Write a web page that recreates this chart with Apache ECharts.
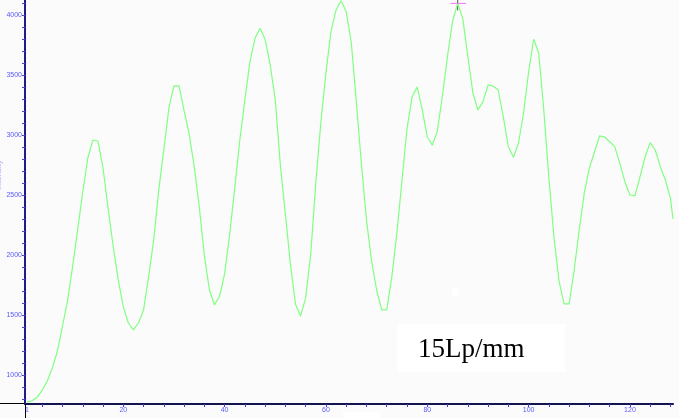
<!DOCTYPE html>
<html><head><meta charset="utf-8">
<script src="https://cdn.jsdelivr.net/npm/echarts@6.0.0/dist/echarts.min.js"></script>
<style>html,body{margin:0;padding:0;background:#fbfbfb;}#c{width:679px;height:418px;}</style>
</head><body><div id="c"></div>
<script>
const positions = [1,2,3,4,5,6,7,8,9,10,11,12,13,14,15,16,17,18,19,20,21,22,23,24,25,26,27,28,29,30,
  31,32,33,34,35,36,37,38,39,40,41,42,43,44,45,46,47,48,49,50,51,52,53,54,55,56,57,58,59,60,
  61,62,63,64,65,66,67,68,69,70,71,72,73,74,75,76,77,78,79,80,81,82,83,84,85,86,87,88,89,90,
  91,92,93,94,95,96,97,98,99,100,101,102,103,104,105,106,107,108,109,110,111,112,113,114,115,116,117,118,119,120,
  121,122,123,124,125,126,127,128,128.5];
const intensity = [773,785,815,872,950,1058,1200,1406,1620,1904,2213,2525,2808,2958,2950,2725,2387,2075,1792,1569,
  1433,1375,1433,1542,1819,2125,2542,2875,3225,3410,3410,3204,3008,2736,2400,1996,1708,1583,1656,1842,
  2171,2558,2958,3292,3611,3806,3890,3796,3583,3292,2750,2337,1917,1587,1492,1642,2008,2603,3108,3520,
  3863,4042,4119,4027,3771,3278,2758,2292,1952,1708,1542,1542,1817,2183,2614,3052,3318,3400,3213,2983,
  2914,3033,3333,3658,3950,4097,3972,3658,3350,3208,3278,3417,3408,3375,3152,2902,2814,2931,3181,3525,
  3798,3681,3208,2642,2150,1783,1592,1592,1875,2212,2521,2725,2858,2992,2983,2944,2903,2764,2611,2500,
  2492,2653,2819,2936,2875,2736,2625,2472,2300];
const xLabelValues = [1,20,40,60,80,100,120];
const xTickValues = [4,8,12,16,20,24,28,32,36,40,44,48,52,56,60,64,68,72,76,80,84,88,92,96,100,104,108,112,116,120,124,128];
const yLabelValues = [1000,1500,2000,2500,3000,3500,4000];
const yTickValues = [800,900,1000,1100,1200,1300,1400,1500,1600,1700,1800,1900,2000,2100,2200,2300,2400,2500,2600,2700,2800,2900,3000,3100,3200,3300,3400,3500,3600,3700,3800,3900,4000,4100];
const annotationText = '15Lp/mm';
const axisNameText = 'Intensity';
const markedPosition = 86;

const chart = echarts.init(document.getElementById('c'), null, {renderer: 'canvas'});
const lineData = positions.map((p, i) => [p, intensity[i]]);
const labelStyle = {color: '#5a5aff', fontSize: 7, fontFamily: 'Liberation Sans, Arial, sans-serif', formatter: v => String(v)};

chart.setOption({
  animation: false,
  backgroundColor: '#fbfbfb',
  grid: {left: 25, right: 6, top: 0, bottom: 14, outerBoundsMode: 'none', containLabel: false},
  xAxis: {
    type: 'value', min: 0.6, max: 128.5,
    axisLine: {show: true, onZero: false, lineStyle: {color: '#14144e', width: 2}},
    axisTick: {show: true, customValues: xTickValues, length: 3, lineStyle: {color: '#3a3ad0'}},
    axisLabel: Object.assign({customValues: xLabelValues, margin: 3}, labelStyle),
    splitLine: {show: false}
  },
  yAxis: {
    type: 'value', min: 758, max: 4125,
    axisLine: {show: true, lineStyle: {color: '#1c1c8c', width: 2}},
    axisTick: {show: true, customValues: yTickValues, length: 3, lineStyle: {color: '#4a4ad8'}},
    axisLabel: Object.assign({customValues: yLabelValues, margin: 3}, labelStyle),
    splitLine: {show: false}
  },
  series: [{
    type: 'line', data: lineData, symbol: 'none', showSymbol: false, clip: true,
    lineStyle: {color: '#80ff80', width: 1.2}
  }]
});

const peak = chart.convertToPixel({gridIndex: 0}, [markedPosition, intensity[positions.indexOf(markedPosition)]]);
chart.setOption({
  graphic: [
    {type: 'line', shape: {x1: 0, y1: 403.5, x2: 25, y2: 403.5}, style: {stroke: '#000', lineWidth: 1}, silent: true},
    {type: 'line', shape: {x1: 25.5, y1: 404, x2: 25.5, y2: 418}, style: {stroke: '#000', lineWidth: 1}, silent: true},
    {type: 'rect', shape: {x: 343, y: 412, width: 37, height: 6}, style: {fill: '#ffffff'}, silent: true},
    {type: 'rect', shape: {x: 452, y: 289, width: 6, height: 7}, style: {fill: '#ffffff'}, silent: true},
    {type: 'rect', shape: {x: 397, y: 324, width: 168, height: 48}, style: {fill: '#ffffff'}, silent: true},
    {type: 'text', x: 418, y: 350, style: {text: annotationText, fill: '#000', font: '27px "Liberation Serif", "Times New Roman", serif', textAlign: 'left', textVerticalAlign: 'middle'}, silent: true},
    {type: 'text', x: 3, y: 175, rotation: Math.PI / 2, style: {text: axisNameText, fill: '#a8a8ff', font: '8px "Liberation Sans", Arial, sans-serif', textAlign: 'center', textVerticalAlign: 'bottom'}, silent: true},
    {type: 'line', shape: {x1: peak[0] - 7, y1: peak[1], x2: peak[0] + 8, y2: peak[1]}, style: {stroke: '#ff66ff', lineWidth: 1}, silent: true},
    {type: 'line', shape: {x1: peak[0], y1: peak[1] - 4, x2: peak[0], y2: peak[1] + 7}, style: {stroke: '#555555', lineWidth: 1}, silent: true}
  ]
});
</script>
</body></html>
